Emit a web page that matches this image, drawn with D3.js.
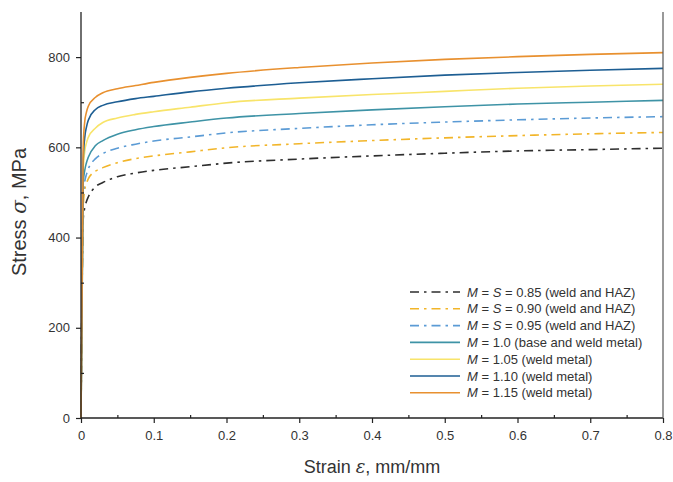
<!DOCTYPE html>
<html>
<head>
<meta charset="utf-8">
<script src="https://cdn.jsdelivr.net/npm/d3@7"></script>
<style>
  body { margin: 0; background: #fff; }
  svg { display: block; font-family: "Liberation Sans", Arial, sans-serif; }
</style>
</head>
<body>
<svg id="chart" width="673" height="482"></svg>
<script>
// strain values (mm/mm) shared by every curve
var strain = [0, 0.003, 0.005, 0.0075, 0.01, 0.02, 0.03, 0.05, 0.075, 0.1, 0.15, 0.2, 0.3, 0.4, 0.5, 0.6, 0.7, 0.8];

// stress (MPa)
var s085 = [0, 440, 465, 480, 490, 513, 522, 535, 543, 549, 557, 565, 574, 581, 587, 592, 595, 598];
var s090 = [0, 465, 505, 520, 530, 547, 555, 566, 575, 581, 590, 599, 608, 615, 621, 626, 630, 633];
var s095 = [0, 490, 522, 540, 552, 575, 586, 598, 607, 614, 623, 632, 642, 650, 656, 661, 665, 668];
var m100 = [0, 520, 548, 566, 578, 604, 615, 629, 639, 646, 656, 665, 675, 683, 690, 696, 700, 704];
var m105 = [0, 545, 590, 610, 622, 643, 655, 665, 673, 679, 689, 699, 709, 717, 724, 731, 736, 740];
var m110 = [0, 570, 620, 645, 660, 684, 693, 701, 708, 713, 723, 731, 743, 752, 760, 766, 771, 775];
var m115 = [0, 600, 655, 678, 691, 711, 721, 730, 737, 744, 755, 764, 777, 787, 795, 801, 806, 810];

var seriesNames = ["0.85", "0.90", "0.95", "1.0", "1.05", "1.10", "1.15"];
var seriesValues = [s085, s090, s095, m100, m105, m110, m115];
var seriesNotes = ["(weld and HAZ)", "(weld and HAZ)", "(weld and HAZ)", "(base and weld metal)",
                   "(weld metal)", "(weld metal)", "(weld metal)"];
var colors = ["#2e2e2e", "#f2b529", "#5b9bd5", "#3e93a6", "#f8e46a", "#1d5e93", "#e8902f"];
var dashed = [true, true, true, false, false, false, false];

var xTicks = [0, 0.1, 0.2, 0.3, 0.4, 0.5, 0.6, 0.7, 0.8];
var yTicks = [0, 200, 400, 600, 800];

var margin = {left: 81, right: 10, top: 12, bottom: 64};
var width = 673, height = 482;

var svg = d3.select("#chart");

var x = d3.scaleLinear().domain([0, 0.8]).range([margin.left, width - margin.right]);
var y = d3.scaleLinear().domain([0, 900]).range([height - margin.bottom, margin.top]);

/** Curves */
var line = d3.line()
    .x(d => x(d[0]))
    .y(d => y(d[1]))
    .curve(d3.curveMonotoneX);

seriesValues.forEach(function (vals, i) {
    svg.append("path")
        .datum(strain.map((s, j) => [s, vals[j]]))
        .attr("fill", "none")
        .attr("stroke", colors[i])
        .attr("stroke-width", 1.6)
        .attr("stroke-dasharray", dashed[i] ? "9,5,2.5,5" : null)
        .attr("d", line);
});

/** Axes */
var axisColor = "#222";
var gx = svg.append("g")
    .attr("transform", "translate(0," + y(0) + ")")
    .call(d3.axisBottom(x).tickValues(xTicks).tickSize(5).tickPadding(8)
        .tickFormat(d => d === 0 ? "0" : d3.format(".1f")(d)));
gx.append("g").call(d3.axisTop(x).tickValues(d3.range(0.05, 0.8, 0.1)).tickSize(3).tickFormat(""));

var gy = svg.append("g")
    .attr("transform", "translate(" + x(0) + ",0)")
    .call(d3.axisLeft(y).tickValues(yTicks).tickSize(5).tickPadding(6));
gy.append("g").call(d3.axisRight(y).tickValues([100, 300, 500, 700]).tickSize(3).tickFormat(""));

[gx, gy].forEach(function (g) {
    g.selectAll(".domain").remove();
    g.selectAll("line").attr("stroke", axisColor).attr("stroke-width", 1.2);
    g.selectAll("text").attr("font-size", 13).attr("fill", "#333")
        .attr("font-family", "'Liberation Sans', Arial, sans-serif");
});

// axis lines and right frame line
svg.append("line").attr("x1", x(0)).attr("x2", x(0.8)).attr("y1", y(0)).attr("y2", y(0))
    .attr("stroke", axisColor).attr("stroke-width", 1.3);
svg.append("line").attr("x1", x(0)).attr("x2", x(0)).attr("y1", y(0)).attr("y2", y(900))
    .attr("stroke", axisColor).attr("stroke-width", 1.3);
svg.append("line").attr("x1", x(0.8)).attr("x2", x(0.8)).attr("y1", y(0)).attr("y2", y(900))
    .attr("stroke", "#555").attr("stroke-width", 1.2);

/** Axis titles */
var xt = svg.append("text")
    .attr("x", 372).attr("y", 473)
    .attr("text-anchor", "middle")
    .attr("font-size", 18).attr("fill", "#333");
xt.append("tspan").text("Strain ");
xt.append("tspan").attr("font-style", "italic").attr("font-family", "'DejaVu Serif', serif").text("ε");
xt.append("tspan").text(", mm/mm");

var yt = svg.append("text")
    .attr("transform", "translate(26,212) rotate(-90)")
    .attr("text-anchor", "middle")
    .attr("font-size", 20).attr("fill", "#333");
yt.append("tspan").text("Stress ");
yt.append("tspan").attr("font-style", "italic").attr("font-family", "'DejaVu Serif', serif").text("σ");
yt.append("tspan").text(", MPa");

/** Legend */
var legend = svg.append("g").attr("transform", "translate(410,292)");
seriesNames.forEach(function (name, i) {
    var row = legend.append("g").attr("transform", "translate(0," + (i * 16.8) + ")");
    row.append("line").attr("x1", 0).attr("x2", 50).attr("y1", 0).attr("y2", 0)
        .attr("stroke", colors[i]).attr("stroke-width", 1.6)
        .attr("stroke-dasharray", dashed[i] ? "9,5,2.5,5" : null);
    var t = row.append("text").attr("x", 57).attr("y", 4.5)
        .attr("font-size", 13).attr("fill", "#333");
    t.append("tspan").attr("font-style", "italic").text("M");
    if (dashed[i]) {
        t.append("tspan").text(" = ");
        t.append("tspan").attr("font-style", "italic").text("S");
    }
    t.append("tspan").text(" = " + name + " " + seriesNotes[i]);
});
</script>
</body>
</html>
